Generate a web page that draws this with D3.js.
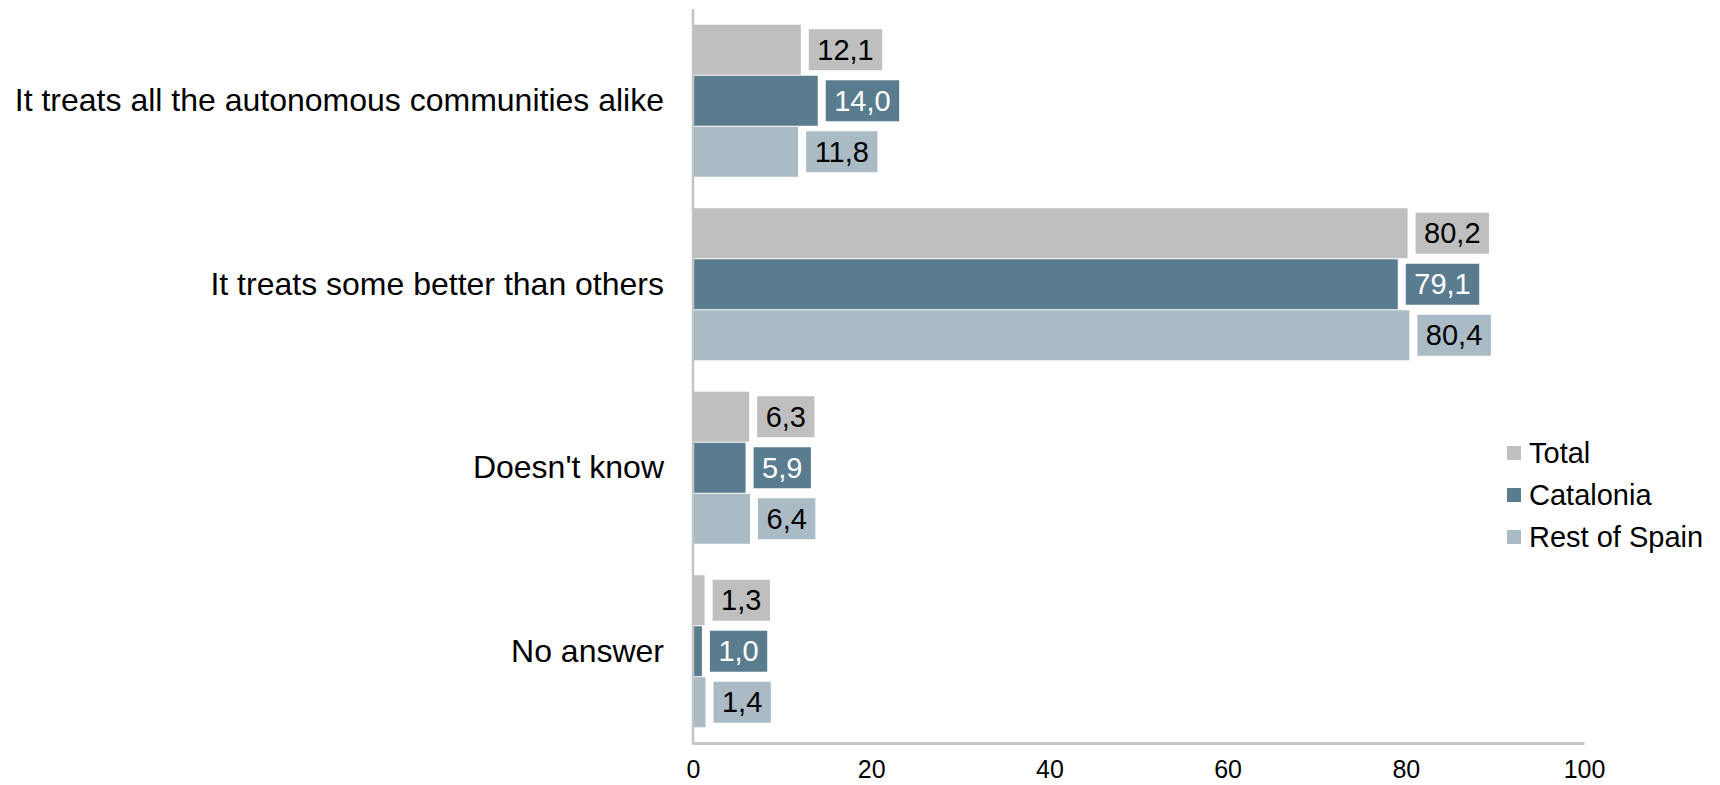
<!DOCTYPE html>
<html>
<head>
<meta charset="utf-8">
<script src="https://cdn.jsdelivr.net/npm/d3@7"></script>
<style>
  html, body { margin: 0; padding: 0; background: #fff; }
  svg { display: block; font-family: "Liberation Sans", Arial, sans-serif; }
</style>
</head>
<body>
<svg id="chart" width="1720" height="785"></svg>
<script>
const categories = [
  "It treats all the autonomous communities alike",
  "It treats some better than others",
  "Doesn't know",
  "No answer"
];
const seriesNames = ["Total", "Catalonia", "Rest of Spain"];
const totalValues = [12.1, 80.2, 6.3, 1.3];
const cataloniaValues = [14.0, 79.1, 5.9, 1.0];
const restValues = [11.8, 80.4, 6.4, 1.4];
const xTicks = [0, 20, 40, 60, 80, 100];

(function () {
const seriesValues = [totalValues, cataloniaValues, restValues];
const colors = ["#BFBFBF", "#5A7C8F", "#ABBBC6"];
const textColors = ["#000", "#fff", "#000"];

const svg = d3.select("#chart");
const pLeft = 693, pRight = 1584, pTop = 9, pBottom = 743;

const x = d3.scaleLinear().domain([0, 100]).range([pLeft, pRight]);
const y = d3.scaleBand().domain(categories).range([pTop, pBottom])
  .paddingInner(0.166).paddingOuter(0.083);
const ys = d3.scaleBand().domain(seriesNames).range([0, y.bandwidth()]);

const fmt = v => v.toFixed(1).replace(".", ",");

const barLayer = svg.append("g");
categories.forEach((cat, ci) => {
  seriesNames.forEach((s, si) => {
    const v = seriesValues[si][ci];
    const g = barLayer.append("g");
    const by = y(cat) + ys(s);
    g.append("rect")
      .attr("x", x(0))
      .attr("y", by + 0.5)
      .attr("width", x(v) - x(0))
      .attr("height", ys.bandwidth() - 1)
      .attr("fill", colors[si]);
    const cy = by + ys.bandwidth() / 2;
    const box = g.append("rect").attr("fill", colors[si]);
    const t = g.append("text")
      .attr("y", cy)
      .attr("dy", "0.35em")
      .attr("font-size", 29)
      .attr("fill", textColors[si])
      .text(fmt(v));
    const tw = t.node().getComputedTextLength();
    const bx = x(v) + 8;
    t.attr("x", bx + 8.5);
    box.attr("x", bx).attr("y", cy - 20.5).attr("width", tw + 17).attr("height", 41);
  });
});

// x axis
const xAxis = svg.append("g")
  .attr("transform", `translate(0,${pBottom})`)
  .call(d3.axisBottom(x).tickValues(xTicks).tickSize(0).tickSizeOuter(0).tickPadding(17)
    .tickFormat(d3.format("d")));
xAxis.select(".domain").attr("stroke", "#C4C4C4").attr("stroke-width", 3);
xAxis.selectAll("text").attr("font-size", 25).attr("fill", "#000")
  .attr("font-family", "'Liberation Sans', Arial, sans-serif");

// y axis
const yAxis = svg.append("g")
  .attr("transform", `translate(${pLeft},0)`)
  .call(d3.axisLeft(y).tickSize(0).tickSizeOuter(0).tickPadding(29));
yAxis.select(".domain").remove();
svg.append("line")
  .attr("x1", pLeft).attr("x2", pLeft)
  .attr("y1", pTop).attr("y2", pBottom + 1.5)
  .attr("stroke", "#C4C4C4").attr("stroke-width", 2.5);
yAxis.selectAll("text").attr("font-size", 32).attr("fill", "#000")
  .attr("font-family", "'Liberation Sans', Arial, sans-serif");

// legend
const legend = svg.append("g").attr("transform", "translate(1507,446)");
seriesNames.forEach((s, i) => {
  const lg = legend.append("g").attr("transform", `translate(0,${i * 42})`);
  lg.append("rect").attr("width", 14).attr("height", 14).attr("fill", colors[i]);
  lg.append("text").attr("x", 22).attr("y", 7).attr("dy", "0.35em")
    .attr("font-size", 29).attr("fill", "#000").text(s);
});
})();
</script>
</body>
</html>
